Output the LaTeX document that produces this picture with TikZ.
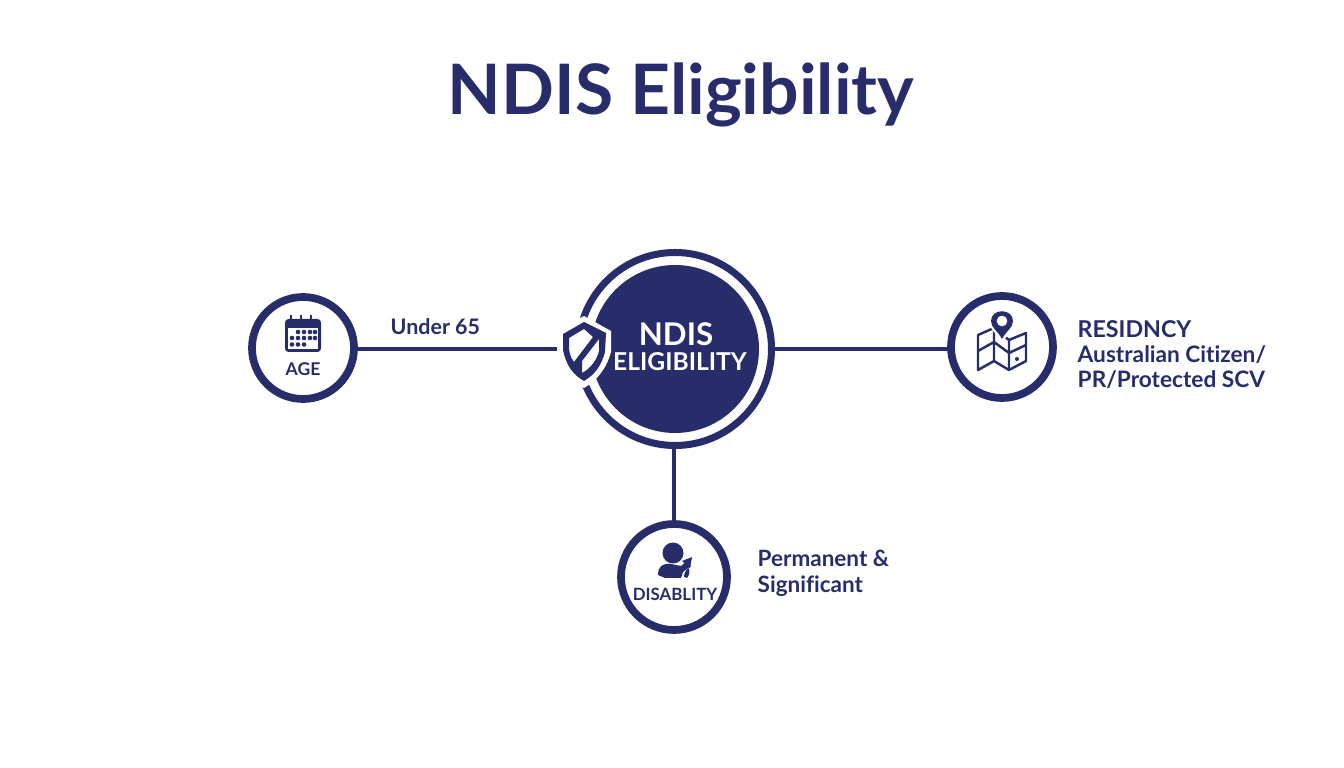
\documentclass[tikz,border=0pt]{standalone}
\usepackage{fontspec}
\setmainfont[Ligatures=NoCommon]{Lato}
\usepackage{tikz}

\definecolor{ndisblue}{HTML}{272D6B}
\setlength{\unitlength}{0.1mm}
\tikzset{
  ring/.style={circle,draw=ndisblue,line width=2.2pt,fill=white,inner sep=0pt,outer sep=0pt,minimum size=102\unitlength},
  link/.style={draw=ndisblue,line width=1.25pt},
  label/.style={text=ndisblue,font=\bfseries\fontsize{6.1}{8}\selectfont,align=left,anchor=west,inner sep=0pt},
  tag/.style={text=ndisblue,font=\bfseries\fontsize{5}{6}\selectfont,inner sep=0pt},
  icon/.style={draw=ndisblue,line width=0.7pt,line join=round},
}

\begin{document}
\begin{tikzpicture}[x=0.1mm,y=-0.1mm]
    \useasboundingbox (0,0) rectangle (1344,768);
    \node[text=ndisblue,font=\bfseries\fontsize{19.8}{24}\selectfont,inner sep=0pt] (title) at (681,95) {NDIS Eligibility};

    % the three outer circles
    \node[ring] (age) at (303,348) {};
    \node[ring] (residency) at (1002,347) {};
    \node[ring,minimum size=106\unitlength] (disability) at (674,577) {};

    % centre
    \node[circle,draw=ndisblue,line width=2pt,fill=white,inner sep=0pt,outer sep=0pt,minimum size=193\unitlength] (main) at (675,349) {};
    \node[circle,fill=ndisblue,inner sep=0pt,minimum size=168\unitlength] (disk) at (675,349) {};
    \node[text=white,font=\bfseries\fontsize{8.9}{10}\selectfont,inner sep=0pt] (ndis) at (676,334) {NDIS};
    \node[text=white,font=\bfseries\fontsize{7}{8}\selectfont,inner sep=0pt] (elig) at (680,362) {ELIGIBILITY};

    % connectors
    \coordinate (shield) at (562,349);
    \coordinate (agepoint) at (age.east |- shield);
    \coordinate (respoint) at (residency.west |- shield);
    \draw[link] (agepoint) -- (shield);
    \draw[link] (main.east) -- (respoint);
    \draw[link] (main.south -| disability) -- (disability.north);

    % shield
    \fill[white] (584,316) -- (611,331) -- (611,352) .. controls (606,370) and (596,381) .. (584,388) .. controls (570,381) and (560,368) .. (557,350) -- (557,330) -- cycle;
    \fill[ndisblue,even odd rule] (584,322) -- (606,333) -- (605,352) .. controls (601,367) and (594,375) .. (584,381) .. controls (573,375) and (566,365) .. (563,350) -- (563,334) -- cycle
      (584,329) -- (569,338) -- (569,349) .. controls (570,355) and (571,358) .. (574,362) -- (593,337) -- cycle
      (599,339) -- (582,361) -- (582,373) .. controls (590,369) and (597,360) .. (599,351) -- cycle;

    % calendar
    \fill[ndisblue,rounded corners=1] (285,319) rectangle (321,352);
    \fill[white] (288,328) rectangle (318,349);
    \foreach \x in {291,301,311} \fill[ndisblue] (\x-1.2,315) rectangle (\x+1.2,321);
    \foreach \x in {298,304,310,315} \fill[ndisblue] (\x,332) circle (2.3);
    \foreach \x in {292,298,304,310,315} \fill[ndisblue] (\x,338) circle (2.3);
    \foreach \x in {292,298,304} \fill[ndisblue] (\x,344.5) circle (2.3);
    \node[tag] (agetag) at (303,369) {AGE};
    \node[label] (agelabel) at (390,327) {Under 65};

    % map
    \draw[icon] (978,335) -- (994,328) -- (1009,340) -- (1026,333) -- (1026,361) -- (1009,370) -- (994,361) -- (978,370) -- cycle;
    \draw[icon] (994,328) -- (994,361) (1009,340) -- (1009,370) (978,351) -- (994,342) -- (1009,353) -- (1026,345);
    \fill[ndisblue] (1017,359) circle (2);
    \fill[white] (1002,343) -- (989,325) -- (1002,309) -- (1015,325) -- cycle;
    \fill[ndisblue,even odd rule] (1002,339) .. controls (998,331) and (991,328) .. (991,321) .. controls (991,308) and (1013,308) .. (1013,321) .. controls (1013,328) and (1006,331) .. (1002,339) -- cycle (1002,321) circle (5.5);
    \node[label,font=\bfseries\fontsize{6.6}{8}\selectfont] (restitle) at (1077,329) {RESIDNCY};
    \node[label,font=\bfseries\fontsize{6.45}{7.3}\selectfont] (reslabel) at (1077,367) {Australian Citizen/\\PR/Protected SCV};

    % person
    \fill[ndisblue] (673,553) circle (10.5);
    \fill[ndisblue] (658,575) .. controls (658,566) and (663,563) .. (671,564) -- (681,566) -- (687,561) -- (691,566) -- (683,572) -- (681,578) -- (665,578) -- cycle;
    \fill[ndisblue] (682,561) -- (692,557) -- (690,568) -- cycle;
    \fill[ndisblue] (684,577) .. controls (684,572) and (687,569) .. (689,568) .. controls (690,572) and (689,576) .. (687,578) -- cycle;
    \node[tag,font=\bfseries\fontsize{4.8}{6}\selectfont] (distag) at (675,594) {DISABLITY};
    \node[label,font=\bfseries\fontsize{6.4}{7.3}\selectfont] (dislabel) at (757,573) {Permanent \&\\Significant};
  \end{tikzpicture}
\end{document}
